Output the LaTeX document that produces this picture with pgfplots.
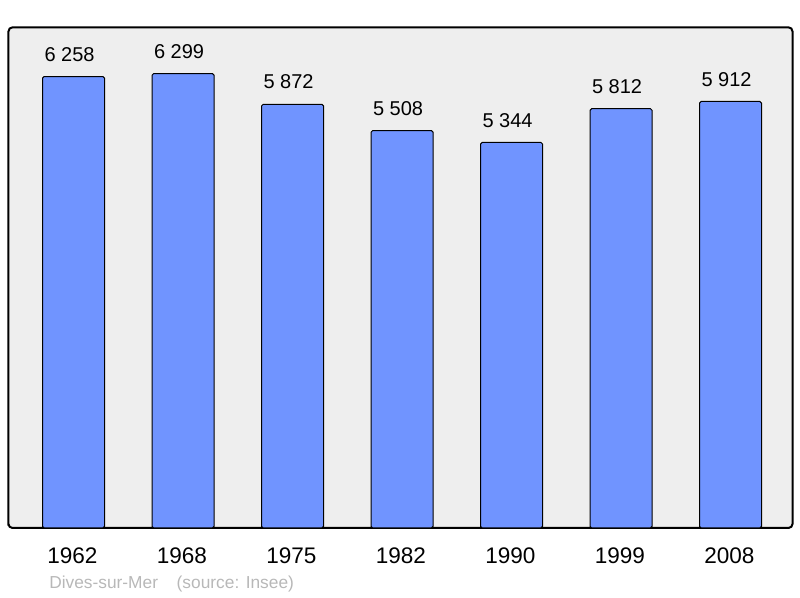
\documentclass[border=0pt]{standalone}
\usepackage{pgfplots}
\pgfplotsset{compat=1.18}
\usepackage{fontspec}
\setmainfont{Liberation Sans}
\definecolor{barblue}{HTML}{7094FF}
\definecolor{bgray}{HTML}{EEEEEE}
\definecolor{srcgray}{HTML}{B8B8B8}
\begin{document}
\begin{tikzpicture}[x=0.75pt,y=0.75pt]
\useasboundingbox (0,0) rectangle (800,598);
\begin{axis}[
  at={(8.5pt*0.75,52.5pt)}, anchor=south west,
  scale only axis,
  width=588pt, height=375.5pt,
  ymin=0, ymax=6940,
  xmin=-0.594, xmax=6.566,
  axis background/.style={fill=bgray, rounded corners=3pt},
  axis line style={line width=1.5pt, rounded corners=3pt},
  ytick=\empty,
  xtick={0,1,2,3,4,5,6},
  xticklabels={1962,1968,1975,1982,1990,1999,2008},
  major tick length=0pt,
  xticklabel style={anchor=center, yshift=-21pt, xshift=-0.8pt, font=\fontsize{16.9}{19}\selectfont},
  /pgf/number format/assume math mode=true,
  ybar, bar width=46.5pt,
  nodes near coords,
  nodes near coords style={anchor=center, yshift=16.75pt, xshift=-3pt, font=\fontsize{15}{17}\selectfont,
    /pgf/number format/.cd, 1000 sep={\ }},
]
\addplot[fill=barblue, draw=black, line width=0.75pt, rounded corners=1.2pt]
  coordinates {(0,6258) (1,6299) (2,5872) (3,5508) (4,5344) (5,5812) (6,5912)};
\end{axis}
\node[anchor=west, text=srcgray, font=\fontsize{13}{15}\selectfont, inner sep=0pt] at (49,14) {Dives-sur-Mer\hspace{14pt}(source: Insee)};
\end{tikzpicture}
\end{document}
